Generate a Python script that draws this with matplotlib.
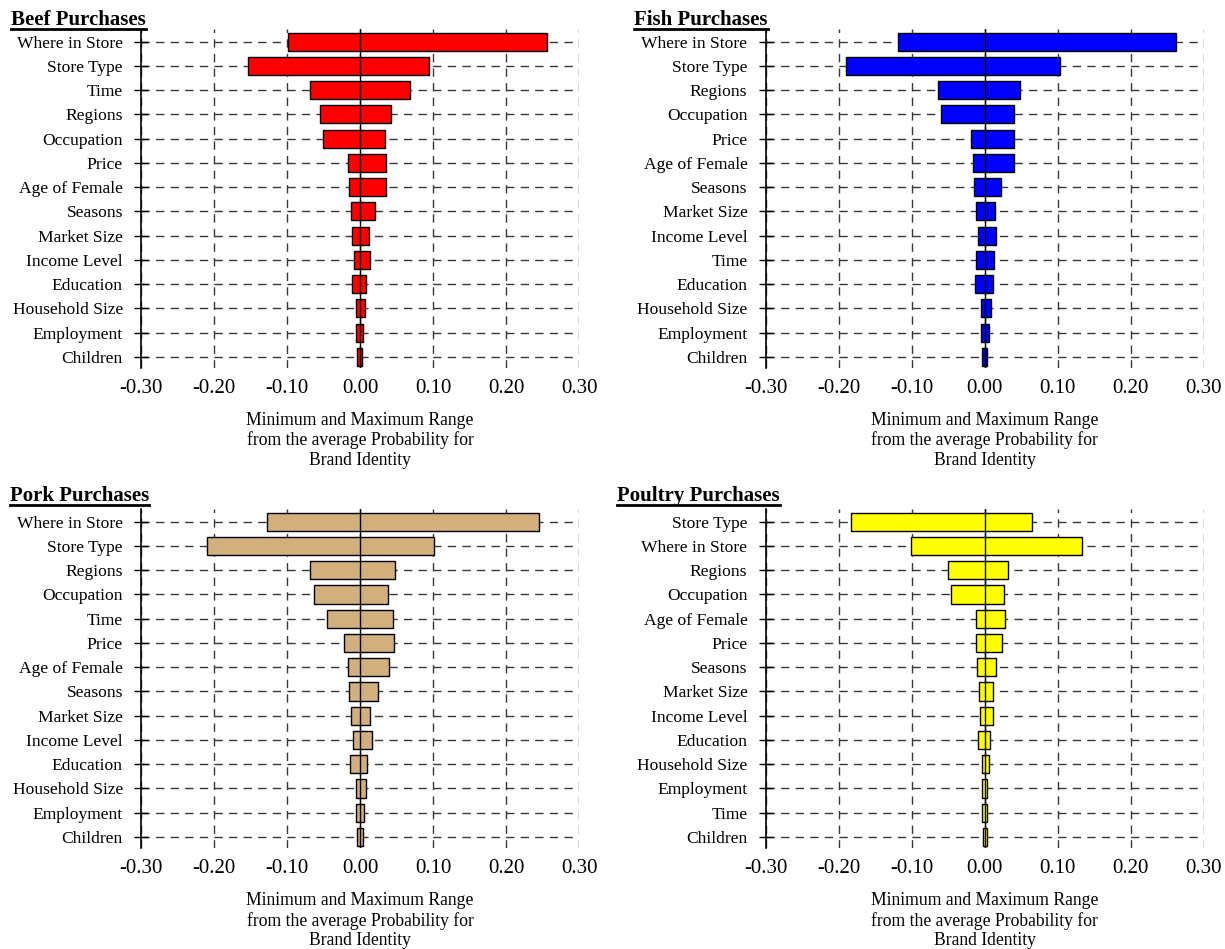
import matplotlib.pyplot as plt
from matplotlib.lines import Line2D

plt.rcParams['font.family'] = ['Liberation Serif', 'DejaVu Serif']

# ---- data: lower / upper deviation from the average probability ----
beef_labels = ['Where in Store', 'Store Type', 'Time', 'Regions', 'Occupation', 'Price',
               'Age of Female', 'Seasons', 'Market Size', 'Income Level', 'Education',
               'Household Size', 'Employment', 'Children']
beef_low = [-0.099, -0.153, -0.069, -0.055, -0.051, -0.016, -0.015,
            -0.013, -0.011, -0.008, -0.011, -0.005, -0.005, -0.004]
beef_high = [0.256, 0.094, 0.069, 0.042, 0.034, 0.036, 0.035,
             0.020, 0.012, 0.014, 0.008, 0.007, 0.004, 0.003]

fish_labels = ['Where in Store', 'Store Type', 'Regions', 'Occupation', 'Price', 'Age of Female',
               'Seasons', 'Market Size', 'Income Level', 'Time', 'Education',
               'Household Size', 'Employment', 'Children']
fish_low = [-0.119, -0.190, -0.064, -0.059, -0.018, -0.016, -0.014,
            -0.012, -0.009, -0.012, -0.013, -0.005, -0.005, -0.003]
fish_high = [0.262, 0.103, 0.048, 0.040, 0.040, 0.041, 0.023,
             0.014, 0.016, 0.013, 0.011, 0.009, 0.006, 0.004]

pork_labels = ['Where in Store', 'Store Type', 'Regions', 'Occupation', 'Time', 'Price',
               'Age of Female', 'Seasons', 'Market Size', 'Income Level', 'Education',
               'Household Size', 'Employment', 'Children']
pork_low = [-0.127, -0.210, -0.068, -0.063, -0.045, -0.022, -0.017,
            -0.015, -0.013, -0.010, -0.014, -0.006, -0.006, -0.004]
pork_high = [0.245, 0.102, 0.048, 0.039, 0.045, 0.046, 0.040,
             0.024, 0.014, 0.016, 0.009, 0.008, 0.006, 0.004]

poultry_labels = ['Store Type', 'Where in Store', 'Regions', 'Occupation', 'Age of Female', 'Price',
                  'Seasons', 'Market Size', 'Income Level', 'Education', 'Household Size',
                  'Employment', 'Time', 'Children']
poultry_low = [-0.183, -0.101, -0.050, -0.046, -0.012, -0.012, -0.010,
               -0.008, -0.006, -0.009, -0.004, -0.004, -0.003, -0.002]
poultry_high = [0.065, 0.134, 0.032, 0.027, 0.028, 0.024, 0.016,
                0.011, 0.012, 0.007, 0.006, 0.004, 0.004, 0.004]

xticks = [-0.30, -0.20, -0.10, 0.00, 0.10, 0.20, 0.30]
xlabel = 'Minimum and Maximum Range\nfrom the average Probability for\nBrand Identity'

W, H = 1225, 949
fig = plt.figure(figsize=(W / 100, H / 100), dpi=100)

titles = []


def tornado(rect, title, title_xy, labels, low, high, color):
    ax = fig.add_axes(rect)
    n = len(labels)
    pos = list(range(n))
    widths = [h - l for l, h in zip(low, high)]
    ax.barh(pos, widths, left=low, height=0.75, color=color,
            edgecolor='black', linewidth=1, zorder=2)
    ax.axvline(0, color='black', lw=1, zorder=3)

    ax.set_xlim(-0.3, 0.3)
    ax.set_ylim(n - 1 + 0.45, -0.52)
    ax.set_yticks(pos)
    ax.set_yticklabels(labels)
    ax.set_xticks(xticks)
    ax.set_xticklabels(['%.2f' % t for t in xticks])

    ax.set_axisbelow(True)
    ax.grid(True, linestyle=(0, (6, 4.5)), color='#383838', lw=1)
    for s in ['top', 'right', 'bottom']:
        ax.spines[s].set_visible(False)
    ax.spines['left'].set_linewidth(1.2)

    ax.tick_params(axis='y', direction='inout', length=10, width=1, pad=8, labelsize=12.6)
    ax.tick_params(axis='x', length=0, pad=8, labelsize=15)
    ax.set_xlabel(xlabel, fontsize=12.7, labelpad=10, linespacing=1.2)

    t = fig.text(title_xy[0] / W, 1 - title_xy[1] / H, title, fontsize=15,
                 fontweight='bold', ha='left', va='baseline')
    titles.append(t)
    return ax


tornado([141 / W, 1 - 367.8 / H, 438 / W, 338.8 / H], 'Beef Purchases', (11, 25),
        beef_labels, beef_low, beef_high, '#ff0000')
tornado([765.5 / W, 1 - 367.8 / H, 438 / W, 338.8 / H], 'Fish Purchases', (634, 25),
        fish_labels, fish_low, fish_high, '#0000ff')
tornado([141 / W, 1 - 847.9 / H, 438 / W, 338.8 / H], 'Pork Purchases', (9.5, 501),
        pork_labels, pork_low, pork_high, '#d2b07e')
tornado([765.5 / W, 1 - 847.9 / H, 438 / W, 338.8 / H], 'Poultry Purchases', (617, 501),
        poultry_labels, poultry_low, poultry_high, '#ffff00')

# underline the panel titles
fig.canvas.draw()
renderer = fig.canvas.get_renderer()
for t in titles:
    bb = t.get_window_extent(renderer)
    yline = 1 - (H - t.get_position()[1] * H + 4) / H
    fig.add_artist(Line2D([bb.x0 / W, bb.x1 / W], [yline, yline],
                          transform=fig.transFigure, color='black', lw=2))

fig.savefig('out.png', dpi=100)
